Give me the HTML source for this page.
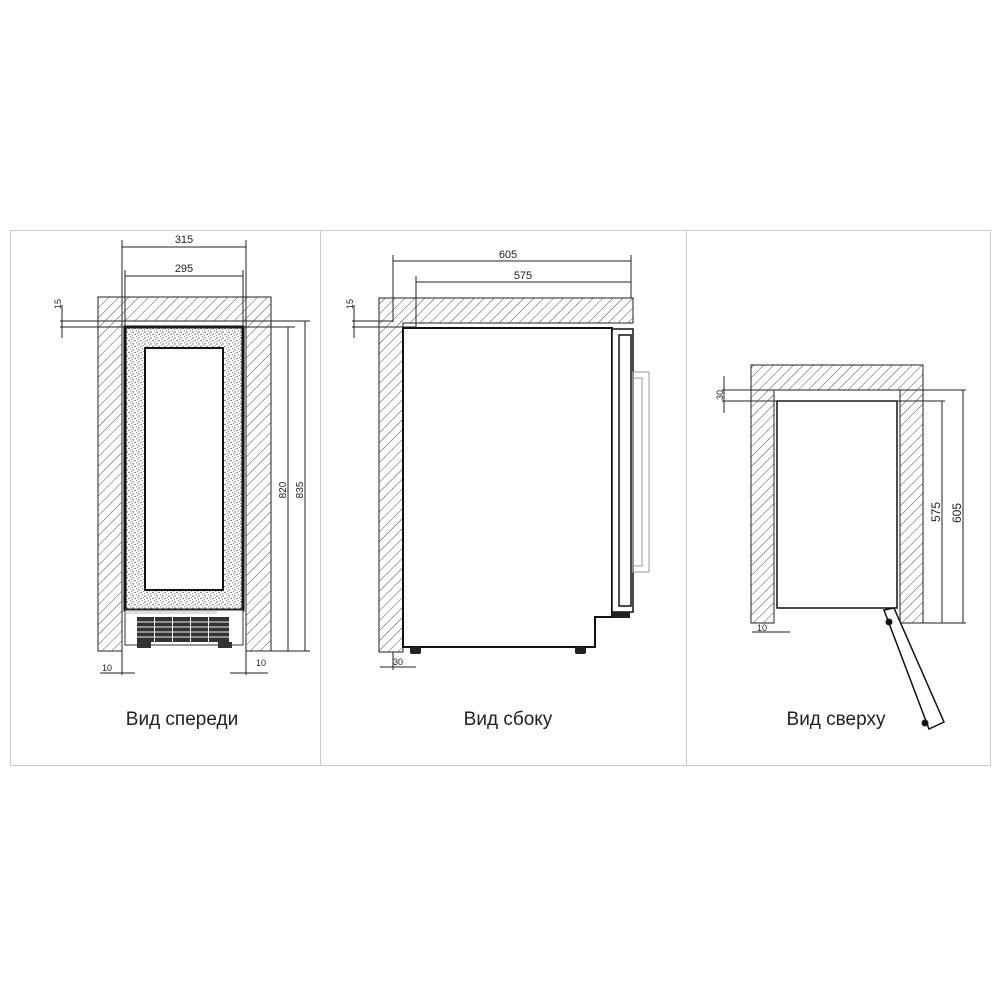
<!DOCTYPE html>
<html><head><meta charset="utf-8"><style>
html,body{margin:0;padding:0;background:#fff}
svg{display:block}
text{font-family:"Liberation Sans","DejaVu Sans",sans-serif;fill:#222}
</style></head><body>
<svg width="1000" height="1000" viewBox="0 0 1000 1000" xmlns="http://www.w3.org/2000/svg">
<defs>
<pattern id="h" patternUnits="userSpaceOnUse" width="7" height="7" patternTransform="rotate(45)">
<line x1="0" y1="0" x2="0" y2="7" stroke="#555" stroke-width="1"/>
</pattern>
<pattern id="d" patternUnits="userSpaceOnUse" width="6" height="6">
<rect width="6" height="6" fill="#fff"/>
<circle cx="1" cy="2" r="0.7" fill="#555"/><circle cx="4.5" cy="0.8" r="0.6" fill="#666"/>
<circle cx="3" cy="4.5" r="0.7" fill="#555"/><circle cx="5.5" cy="3.5" r="0.5" fill="#777"/>
<circle cx="0.5" cy="5.5" r="0.5" fill="#777"/>
</pattern>
</defs>
<rect x="10.5" y="230.5" width="310" height="535" fill="none" stroke="#ccc"/>
<rect x="320.5" y="230.5" width="366" height="535" fill="none" stroke="#ccc"/>
<rect x="686.5" y="230.5" width="304" height="535" fill="none" stroke="#ccc"/>

<g stroke="#222" stroke-width="1" fill="none">
<!-- FRONT -->
<path d="M98 297H271V651H246V321H122V651H98Z" fill="url(#h)" stroke="#222"/>
<rect x="125" y="327" width="118" height="283" fill="url(#d)" stroke="#111" stroke-width="3"/>
<rect x="145" y="348" width="78" height="242" fill="#fff" stroke="#111" stroke-width="2"/>
<rect x="125" y="610" width="118" height="35" fill="#fff" stroke="#333"/>
<rect x="126" y="611" width="91" height="3" fill="#ddd" stroke="none"/>
<g fill="#333" stroke="none">
<rect x="137" y="617" width="17" height="25"/><rect x="155" y="617" width="17" height="25"/><rect x="173" y="617" width="17" height="25"/><rect x="191" y="617" width="17" height="25"/><rect x="209" y="617" width="20" height="25"/>
<rect x="137" y="642" width="14" height="6"/><rect x="218" y="642" width="14" height="6"/>
</g>
<g stroke="#eee" stroke-width="1">
<line x1="137" y1="622" x2="229" y2="622"/><line x1="137" y1="627" x2="229" y2="627"/><line x1="137" y1="632" x2="229" y2="632"/><line x1="137" y1="637" x2="229" y2="637"/>
</g>
<line x1="122" y1="240" x2="122" y2="675"/><line x1="246" y1="240" x2="246" y2="675"/>
<line x1="125" y1="270" x2="125" y2="327"/><line x1="243" y1="270" x2="243" y2="327"/>
<line x1="122" y1="247" x2="246" y2="247"/><line x1="125" y1="276" x2="243" y2="276"/>
<line x1="60" y1="321" x2="310" y2="321"/><line x1="60" y1="327" x2="295" y2="327"/>
<line x1="62" y1="305" x2="62" y2="338"/>
<line x1="288" y1="327" x2="288" y2="651"/><line x1="305" y1="321" x2="305" y2="651"/>
<line x1="246" y1="651" x2="310" y2="651"/>
<line x1="100" y1="673" x2="135" y2="673"/><line x1="230" y1="673" x2="268" y2="673"/>
<!-- SIDE -->
<path d="M379 298H633V323H403V652H379Z" fill="url(#h)" stroke="#222"/>
<path d="M403 328H612V617H595V647H403Z" fill="#fff" stroke="#111" stroke-width="2"/>
<rect x="612" y="329" width="21" height="283" fill="#fff" stroke="#111" stroke-width="1.5"/>
<rect x="619" y="335" width="12" height="271" stroke="#111" stroke-width="1.5"/>
<rect x="633" y="372" width="16" height="200" stroke="#999"/>
<rect x="633" y="378" width="9" height="188" stroke="#999"/>
<g fill="#222" stroke="none"><rect x="410" y="647" width="11" height="7" rx="2"/><rect x="575" y="647" width="11" height="7" rx="2"/><rect x="612" y="612" width="18" height="6"/></g>
<line x1="393" y1="255" x2="393" y2="322"/><line x1="416" y1="276" x2="416" y2="328"/><line x1="631" y1="255" x2="631" y2="298"/>
<line x1="393" y1="261" x2="631" y2="261"/><line x1="416" y1="282" x2="631" y2="282"/>
<line x1="352" y1="321" x2="393" y2="321"/><line x1="352" y1="327" x2="416" y2="327"/>
<line x1="354" y1="305" x2="354" y2="338"/>
<line x1="393" y1="652" x2="393" y2="670"/>
<line x1="380" y1="667" x2="416" y2="667"/>
<!-- TOP -->
<path d="M751 365H923V623H900V390H774V623H751Z" fill="url(#h)" stroke="#222"/>
<path d="M774 390V623M900 390V623M774 390H900"/>
<rect x="777" y="401" width="120" height="207" fill="#fff" stroke="#111" stroke-width="1.5"/>
<path d="M884 610L894 608L944 722L929 729Z" fill="#fff" stroke="#111" stroke-width="1.5"/>
<circle cx="889" cy="622" r="3" fill="#111"/><circle cx="925" cy="723" r="3" fill="#111"/>
<line x1="722" y1="390" x2="966" y2="390"/><line x1="722" y1="401" x2="945" y2="401"/>
<line x1="724" y1="376" x2="724" y2="413"/>
<line x1="942" y1="401" x2="942" y2="623"/><line x1="963" y1="390" x2="963" y2="623"/>
<line x1="923" y1="623" x2="966" y2="623"/>
<line x1="752" y1="632" x2="790" y2="632"/>
</g>
<g font-size="11" text-anchor="middle">
<text x="184" y="243">315</text><text x="184" y="272">295</text>
<text x="508" y="258">605</text><text x="523" y="279">575</text>
<text x="107" y="671" font-size="9">10</text><text x="261" y="666" font-size="9">10</text>
<text x="398" y="665" font-size="9">30</text><text x="762" y="631" font-size="9">10</text>
<text transform="translate(61,304) rotate(-90)" font-size="9">15</text>
<text transform="translate(353,304) rotate(-90)" font-size="9">15</text>
<text transform="translate(723,395) rotate(-90)" font-size="9">30</text>
<text transform="translate(286,490) rotate(-90)" font-size="10">820</text>
<text transform="translate(303,490) rotate(-90)" font-size="10">835</text>
<text transform="translate(940,512) rotate(-90)" font-size="12">575</text>
<text transform="translate(961,513) rotate(-90)" font-size="12">605</text>
</g>
<g font-size="19" text-anchor="middle">
<text x="182" y="725">Вид спереди</text>
<text x="508" y="725">Вид сбоку</text>
<text x="836" y="725">Вид сверху</text>
</g>
</svg>
</body></html>
